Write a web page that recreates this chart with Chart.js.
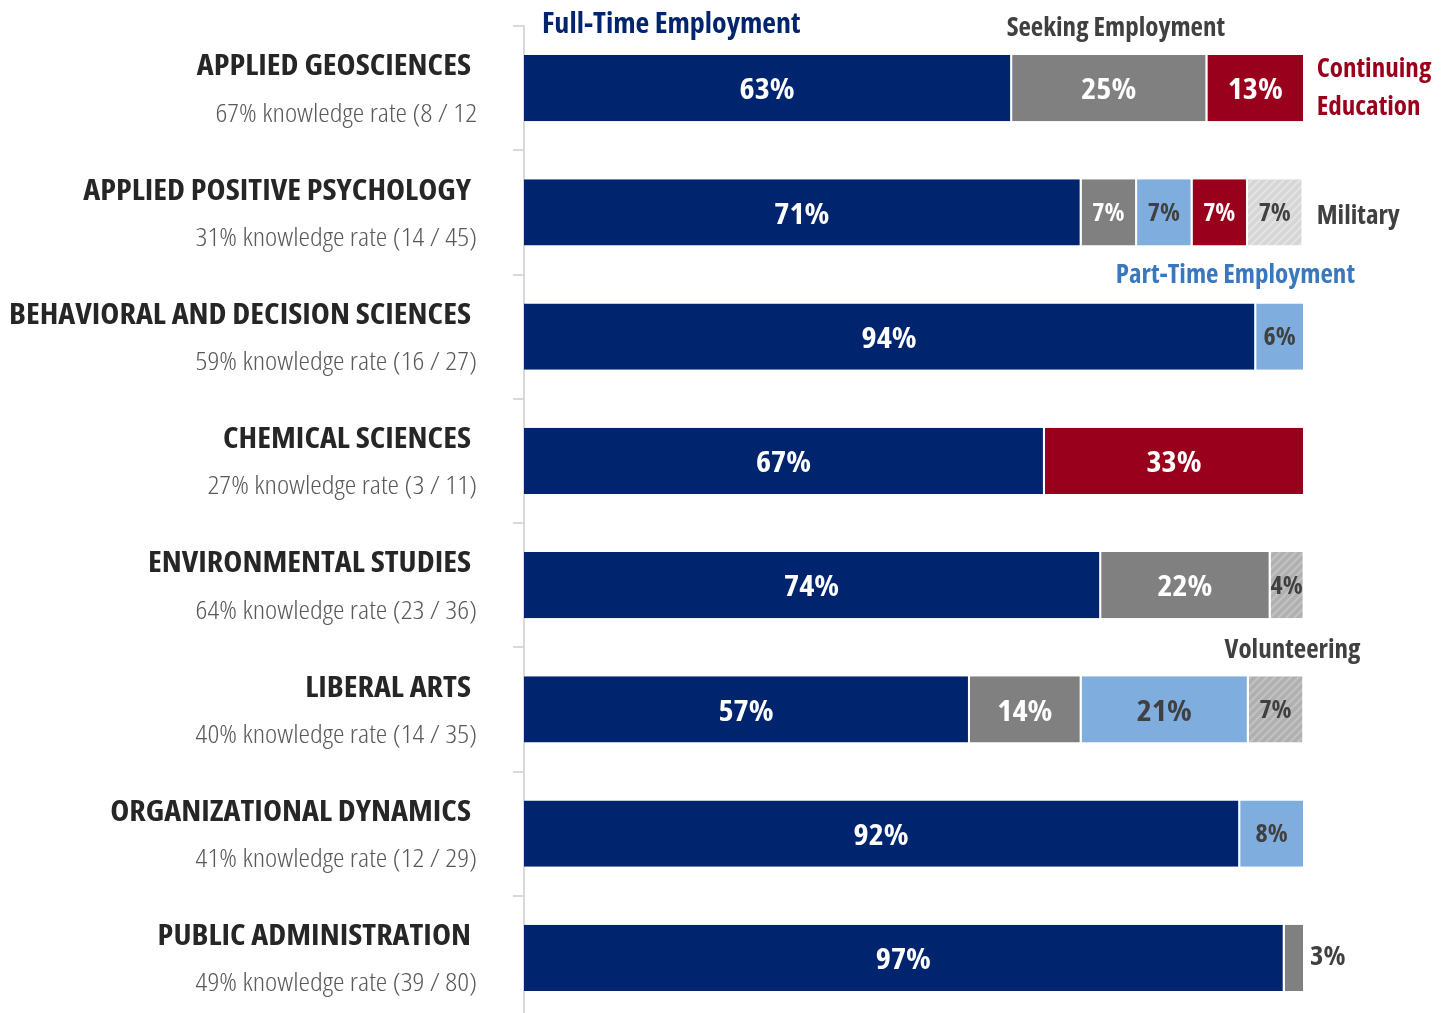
<!DOCTYPE html>
<html>
<head>
<meta charset="utf-8">
<script src="https://cdn.jsdelivr.net/npm/chart.js@4.4.1/dist/chart.umd.min.js"></script>
<style>
  body { margin: 0; background: #fff; overflow: hidden; }
  #wrap { position: relative; width: 1449px; height: 1030px; }
</style>
</head>
<body>
<div id="wrap"><canvas id="outcomeChart"></canvas></div>
<script>
const categories = [
    'APPLIED GEOSCIENCES',
    'APPLIED POSITIVE PSYCHOLOGY',
    'BEHAVIORAL AND DECISION SCIENCES',
    'CHEMICAL SCIENCES',
    'ENVIRONMENTAL STUDIES',
    'LIBERAL ARTS',
    'ORGANIZATIONAL DYNAMICS',
    'PUBLIC ADMINISTRATION'
]
const knowledgeRates = [
    '67% knowledge rate (8 / 12',
    '31% knowledge rate (14 / 45)',
    '59% knowledge rate (16 / 27)',
    '27% knowledge rate (3 / 11)',
    '64% knowledge rate (23 / 36)',
    '40% knowledge rate (14 / 35)',
    '41% knowledge rate (12 / 29)',
    '49% knowledge rate (39 / 80)'
]

// share of respondents, percent
const fullTime     = [62.5, 71.4, 93.75, 66.7, 73.9, 57.1, 91.7, 97.4]
const seeking      = [25, 7.1, 0, 0, 21.7, 14.3, 0, 2.6]
const partTime     = [0, 7.1, 6.25, 0, 0, 21.4, 8.3, 0]
const continuing   = [12.5, 7.1, 0, 33.3, 0, 0, 0, 0]
const military     = [0, 7.1, 0, 0, 0, 0, 0, 0]
const volunteering = [0, 0, 0, 0, 4.35, 7.1, 0, 0]

const FONT = "'Open Sans', 'Liberation Sans', sans-serif"

function hatch(bg, stripe) {
    const c = document.createElement('canvas')
    c.width = 8; c.height = 8
    const g = c.getContext('2d')
    g.fillStyle = bg
    g.fillRect(0, 0, 8, 8)
    g.strokeStyle = stripe
    g.lineWidth = 2
    g.beginPath()
    g.moveTo(-2, 10); g.lineTo(10, -2)
    g.moveTo(-2, 2); g.lineTo(2, -2)
    g.moveTo(6, 10); g.lineTo(10, 6)
    g.stroke()
    return g.createPattern(c, 'repeat')
}

const series = [
    { label: 'Full-Time Employment', data: fullTime, color: '#00246e', text: '#ffffff' },
    { label: 'Seeking Employment', data: seeking, color: '#808080', text: '#ffffff' },
    { label: 'Part-Time Employment', data: partTime, color: '#7fadde', text: '#404040' },
    { label: 'Continuing Education', data: continuing, color: '#98001c', text: '#ffffff' },
    { label: 'Military', data: military, color: hatch('#d6d6d6', '#e3e3e3'), text: '#404040' },
    { label: 'Volunteering', data: volunteering, color: hatch('#b0b0b0', '#c2c2c2'), text: '#404040' }
]

// series names written beside the bars: [text, colour, row, x value, align, offset from bar centre, size]
const seriesNotes = [
    ['Full-Time Employment', '#00246e', 0, 2.3, 'left', -63, 28],
    ['Seeking Employment', '#404040', 0, 61.8, 'left', -60, 26],
    ['Continuing', '#98001c', 0, 101.5, 'left', -19, 26],
    ['Education', '#98001c', 0, 101.5, 'left', 19, 26],
    ['Military', '#404040', 1, 101.5, 'left', 4, 26],
    ['Part-Time Employment', '#3a78bd', 2, 106.4, 'right', -61, 26],
    ['Volunteering', '#404040', 5, 107.1, 'right', -59, 26]
]

// the source font is a little wider than the condensed face installed here, so stretch it a bit
function text(ctx, str, x, y, font, color, align, sx) {
    ctx.save()
    ctx.font = font
    ctx.fillStyle = color
    ctx.textAlign = align
    ctx.textBaseline = 'middle'
    ctx.translate(x, y)
    ctx.scale(sx || 1, 1)
    ctx.fillText(str, 0, 0)
    ctx.restore()
}

const barLabels = {
    id: 'barLabels',
    afterDatasetsDraw(chart) {
        const ctx = chart.ctx
        chart.data.datasets.forEach((ds, i) => {
            const meta = chart.getDatasetMeta(i)
            meta.data.forEach((bar, j) => {
                const v = ds.data[j]
                if (!v) return
                const w = Math.abs(bar.x - bar.base)
                const label = Math.round(v) + '%'
                if (w < 25) {
                    text(ctx, label, bar.x + 5, bar.y - 1, "bold condensed 27px " + FONT, '#404040', 'left', 1.06)
                } else if (w < 70) {
                    text(ctx, label, (bar.x + bar.base) / 2 - 1, bar.y + 2, "bold condensed 24px " + FONT, series[i].text, 'center', 1.08)
                } else {
                    text(ctx, label, (bar.x + bar.base) / 2 - 1, bar.y + 3, "bold condensed 29px " + FONT, series[i].text, 'center', 1.11)
                }
            })
        })
    }
}

const sideLabels = {
    id: 'sideLabels',
    afterDraw(chart) {
        const ctx = chart.ctx
        const x = chart.scales.x
        const y = chart.scales.y
        categories.forEach((name, i) => {
            const cy = y.getPixelForValue(i)
            text(ctx, name, 471, cy - 21, "bold condensed 29px " + FONT, '#262626', 'right', 1.11)
            text(ctx, knowledgeRates[i], 477, cy + 26, "300 condensed 26px " + FONT, '#595959', 'right', 1.12)
        })
        seriesNotes.forEach(n => {
            const cy = y.getPixelForValue(n[2])
            const sx = n[6] === 28 ? 1.07 : 1.04
            text(ctx, n[0], x.getPixelForValue(n[3]), cy + n[5], "bold condensed " + n[6] + "px " + FONT, n[1], n[4], sx)
        })
    }
}

const ctx = document.getElementById('outcomeChart').getContext('2d')
new Chart(ctx, {
    type: 'bar',
    data: {
        labels: categories,
        datasets: series.map(s => ({
            label: s.label,
            data: s.data,
            backgroundColor: s.color,
            borderColor: '#ffffff',
            borderWidth: { top: 0, right: 2, bottom: 0, left: 0 },
            borderSkipped: false,
            barPercentage: 0.534,
            categoryPercentage: 1
        }))
    },
    options: {
        indexAxis: 'y',
        responsive: true,
        maintainAspectRatio: false,
        animation: false,
        layout: { padding: { top: 26, right: 144, bottom: 10, left: 0 } },
        plugins: {
            legend: { display: false },
            tooltip: { enabled: false }
        },
        scales: {
            x: {
                stacked: true,
                min: 0,
                max: 100,
                display: false
            },
            y: {
                stacked: true,
                grid: {
                    drawOnChartArea: false,
                    drawTicks: true,
                    tickLength: 11,
                    color: '#d9d9d9',
                    lineWidth: 2
                },
                border: { display: true, color: '#d9d9d9', width: 2 },
                ticks: { callback: () => '', padding: 0 },
                afterFit(scale) { scale.width = 524 }
            }
        }
    },
    plugins: [barLabels, sideLabels]
})
</script>
</body>
</html>
